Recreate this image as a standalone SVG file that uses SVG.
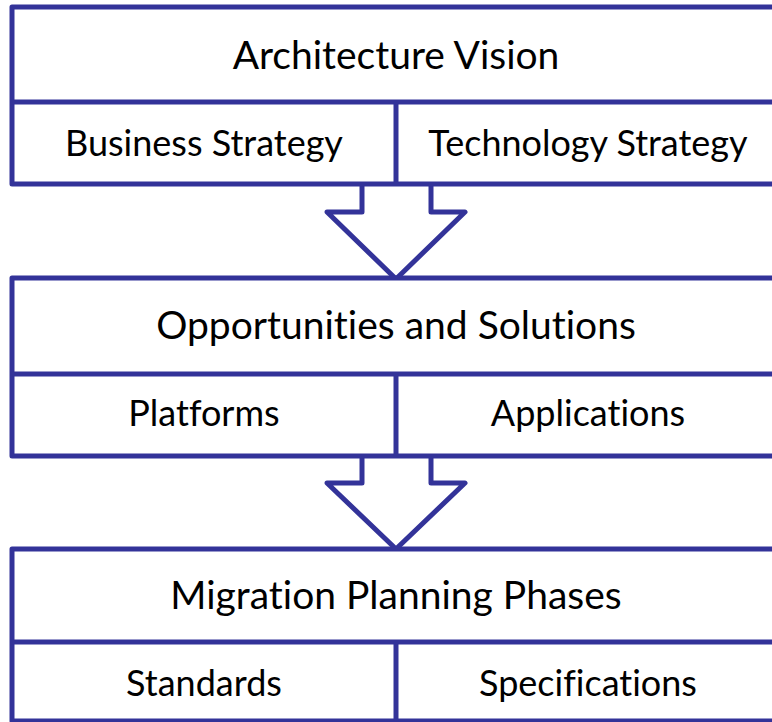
<svg xmlns="http://www.w3.org/2000/svg" width="772" height="722" viewBox="0 0 772 722">
<style>
.box{fill:#ffffff;stroke:#333399;stroke-width:5;stroke-linejoin:round}
.ln{stroke:#333399;stroke-width:5;fill:none}
.arr{fill:#ffffff;stroke:#333399;stroke-width:5;stroke-linejoin:round}
.t{font-family:Lato,"Open Sans",sans-serif;fill:#000000;text-anchor:middle;font-variant-ligatures:none;font-feature-settings:"liga" 0,"clig" 0}
.h{font-size:39px}
.c{font-size:36px}
</style>
<rect width="772" height="722" fill="#ffffff"/>
<g id="connectors">
<polyline class="arr" points="362,184 362,212 327,212 396,279 465,212 431,212 431,184"/>
<polyline class="arr" points="362,456 362,483 327,483 396,549 465,483 431,483 431,456"/>
</g>
<g id="block1">
<rect class="box" x="12" y="7" width="768" height="177"/>
<line class="ln" x1="12" y1="102" x2="780" y2="102"/>
<line class="ln" x1="396" y1="102" x2="396" y2="184"/>
<text class="t h" x="396" y="69">Architecture Vision</text>
<text class="t c" x="204" y="156">Business Strategy</text>
<text class="t c" x="588" y="156">Technology Strategy</text>
</g>
<g id="block2">
<rect class="box" x="12" y="278" width="768" height="178"/>
<line class="ln" x1="12" y1="374" x2="780" y2="374"/>
<line class="ln" x1="396" y1="374" x2="396" y2="456"/>
<text class="t h" x="396" y="339">Opportunities and Solutions</text>
<text class="t c" x="204" y="426">Platforms</text>
<text class="t c" x="588" y="426">Applications</text>
</g>
<g id="block3">
<rect class="box" x="12" y="549" width="768" height="172"/>
<line class="ln" x1="12" y1="642" x2="780" y2="642"/>
<line class="ln" x1="396" y1="642" x2="396" y2="721"/>
<text class="t h" x="396" y="609">Migration Planning Phases</text>
<text class="t c" x="204" y="696">Standards</text>
<text class="t c" x="588" y="696">Specifications</text>
</g>
</svg>
